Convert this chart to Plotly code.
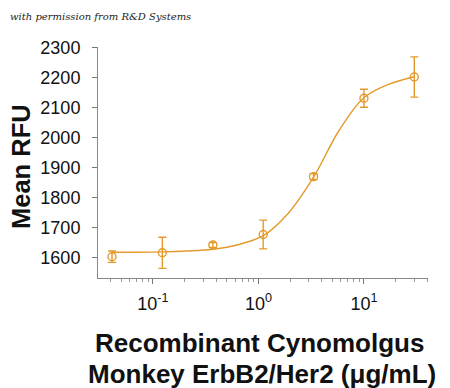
import plotly.graph_objects as go

# Measured data
conc = [0.041, 0.123, 0.37, 1.11, 3.33, 10, 30]
mean_rfu = [1603, 1616, 1642, 1677, 1870, 2131, 2202]
err = [19, 52, 8, 48, 10, 30, 67]

# Fitted curve
fit_x = [0.041, 0.071, 0.123, 0.21, 0.37, 0.64, 1.11, 1.92, 3.33, 5.77, 10, 17.3, 30]
fit_y = [1618, 1618, 1619, 1622, 1628, 1643, 1673, 1748, 1868, 2022, 2133, 2178, 2203]

tick_vals = [0.1, 1, 10]
tick_text = ["10<sup>-1</sup>", "10<sup>0</sup>", "10<sup>1</sup>"]
y_ticks = [1600, 1700, 1800, 1900, 2000, 2100, 2200, 2300]

color = "#E39A2B"
font = "Arial, Liberation Sans, sans-serif"

# page has an 8px body margin, so the figure is laid out 8px smaller
W, H = 442, 380
L, R, T, B = 90, 22, 39, 110
PW, PH = W - L - R, H - T - B


def px(xp):
    return (xp - L) / PW


def py(yp):
    return 1 - (yp - T) / PH


fig = go.Figure()
fig.add_trace(go.Scatter(
    x=fit_x, y=fit_y, mode="lines",
    line=dict(color=color, width=1.4, shape="spline", smoothing=1.0),
    hoverinfo="skip", showlegend=False))
fig.add_trace(go.Scatter(
    x=conc, y=mean_rfu, mode="markers",
    marker=dict(symbol="circle-open", size=8, color=color, line=dict(width=1.4, color=color)),
    error_y=dict(type="data", array=err, visible=True, color=color, thickness=1.4, width=4),
    showlegend=False))

fig.update_layout(
    width=W, height=H,
    margin=dict(l=L, r=R, t=T, b=B, autoexpand=False),
    paper_bgcolor="white", plot_bgcolor="white",
    font=dict(family=font, color="#111"),
    xaxis=dict(
        type="log", range=[-1.52, 1.607], automargin=False,
        tickvals=tick_vals, ticktext=tick_text,
        ticks="outside", ticklen=5, tickcolor="#777",
        minor=dict(ticks="outside", ticklen=3, tickcolor="#999", dtick="D1", showgrid=False),
        showline=True, linecolor="#888", linewidth=1,
        showgrid=False, zeroline=False,
        tickfont=dict(size=18, color="#111"),
        ticklabelstandoff=4,
    ),
    yaxis=dict(
        range=[1532, 2302], automargin=False,
        tickvals=y_ticks,
        ticks="outside", ticklen=5, tickcolor="#777",
        showline=True, linecolor="#888", linewidth=1,
        showgrid=False, zeroline=False,
        tickfont=dict(size=18, color="#111"),
        ticklabelstandoff=8,
    ),
)

fig.add_annotation(
    text="<i>with permission from R&amp;D Systems</i>",
    xref="paper", yref="paper", x=px(0), y=py(9), xanchor="left", yanchor="middle",
    showarrow=False, font=dict(family="DejaVu Serif, serif", size=10, color="#222"))
fig.add_annotation(
    text="<b>Mean RFU</b>", textangle=-90,
    xref="paper", yref="paper", x=px(13), y=py(159), xanchor="center", yanchor="middle",
    showarrow=False, font=dict(size=25.5, color="#111"))
fig.add_annotation(
    text="<b>Recombinant Cynomolgus</b>",
    xref="paper", yref="paper", x=px(251), y=py(335), xanchor="center", yanchor="middle",
    showarrow=False, font=dict(size=26, color="#111"))
fig.add_annotation(
    text="<b>Monkey ErbB2/Her2 (μg/mL)</b>",
    xref="paper", yref="paper", x=px(254), y=py(366), xanchor="center", yanchor="middle",
    showarrow=False, font=dict(size=26, color="#111"))

fig.write_html("out.html")
